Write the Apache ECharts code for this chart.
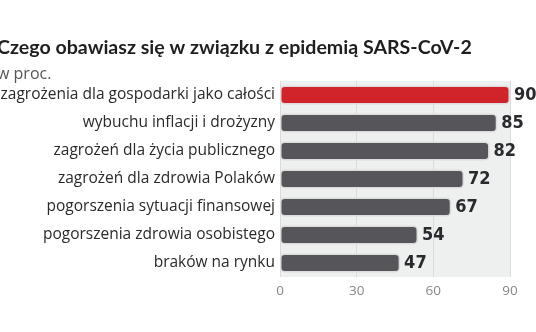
<!DOCTYPE html>
<html><head><meta charset="utf-8">
<script src="https://cdn.jsdelivr.net/npm/echarts@6/dist/echarts.min.js"></script>
<style>html,body{margin:0;padding:0;background:#fff}#c{width:536px;height:332px}</style>
</head><body><div id="c"></div>
<script>
const categories = [
  "zagrożenia dla gospodarki jako całości",
  "wybuchu inflacji i drożyzny",
  "zagrożeń dla życia publicznego",
  "zagrożeń dla zdrowia Polaków",
  "pogorszenia sytuacji finansowej",
  "pogorszenia zdrowia osobistego",
  "braków na rynku"
];
const values = [90, 85, 82, 72, 67, 54, 47];
const tickValues = [0, 30, 60, 90];
const titleText = "Czego obawiasz się w związku z epidemią SARS-CoV-2";
const subtitleText = "w proc.";

const chart = echarts.init(document.getElementById('c'));
chart.setOption({
  animation: false,
  title: {
    text: titleText,
    subtext: subtitleText,
    left: -3, top: 38, padding: 0,
    itemGap: 8,
    textStyle: {fontFamily: 'Lato', fontWeight: 'bold', fontSize: 19.6, color: '#1e1e1e'},
    subtextStyle: {fontFamily: 'Open Sans', fontSize: 16, color: '#555'}
  },
  grid: {left: 280, right: 26, top: 81, bottom: 55, show: true, backgroundColor: '#eef0f0', borderWidth: 0,
    outerBoundsMode: 'none', containLabel: false},
  xAxis: {
    type: 'value', min: 0, max: 90, interval: 30,
    axisLine: {show: false}, axisTick: {show: false},
    splitLine: {lineStyle: {color: '#d8dcdc', width: 1}},
    axisLabel: {color: '#888', fontFamily: 'Open Sans', fontSize: 13.5, margin: 7,
      formatter: v => tickValues.includes(v) ? String(v) : ''}
  },
  yAxis: {
    type: 'category', data: categories, inverse: true,
    axisLine: {show: false}, axisTick: {show: false},
    axisLabel: {color: '#2a2a2a', fontFamily: 'Open Sans', fontSize: 15.5, margin: 5}
  },
  series: [{
    type: 'bar',
    data: values.map((v, i) => ({value: v, itemStyle: {color: i === 0 ? '#d0232a' : '#55555a'}})),
    barWidth: 19,
    itemStyle: {borderColor: '#dcdcdc', borderWidth: 1.5, borderRadius: 4},
    label: {show: true, position: 'right', distance: 4, color: '#2a2a2e',
      fontFamily: "'DejaVu Sans Condensed', 'Roboto'", fontWeight: 'bold', fontSize: 18}
  }]
});
</script></body></html>
